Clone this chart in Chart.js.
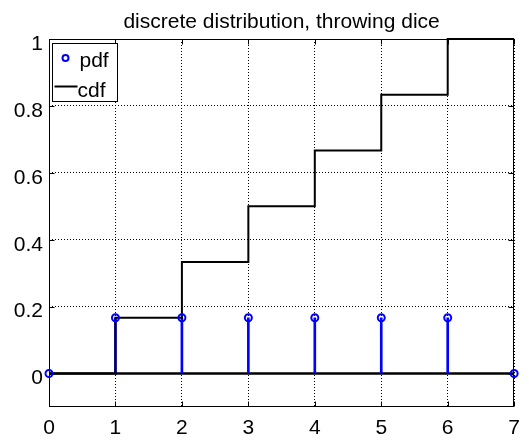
<!DOCTYPE html>
<html>
<head>
<meta charset="utf-8">
<script src="https://cdn.jsdelivr.net/npm/chart.js@4/dist/chart.umd.min.js"></script>
<style>
  html, body { margin: 0; padding: 0; background: #fff; }
  canvas { display: block; }
</style>
</head>
<body>
<canvas id="chart" width="529" height="441"></canvas>
<script>
// Fair die: probability of each face and the running total
const faces = [0, 1, 2, 3, 4, 5, 6, 7];
const pdfValues = [0, 0.1667, 0.1667, 0.1667, 0.1667, 0.1667, 0.1667, 0];
const cdfValues = [0, 0.1667, 0.3333, 0.5, 0.6667, 0.8333, 1, 1];
const xTicks = [0, 1, 2, 3, 4, 5, 6, 7];
const yTicks = [0, 0.2, 0.4, 0.6, 0.8, 1];
const titleText = 'discrete distribution, throwing dice';
const legendLabels = ['pdf', 'cdf'];

const FONT = "'Liberation Sans', Arial, Helvetica, sans-serif";
const BLUE = '#0000ff';

const pdfPoints = faces.map((f, i) => ({ x: f, y: pdfValues[i] }));
const cdfPoints = faces.map((f, i) => ({ x: f, y: cdfValues[i] }));
const basePoints = [{ x: faces[0], y: 0 }, { x: faces[faces.length - 1], y: 0 }];

// Axes box, inward tick marks and the boxed legend
const framePlugin = {
  id: 'frame',
  beforeDatasetsDraw(chart) {
    const { ctx, chartArea: a, scales } = chart;
    const L = Math.round(a.left) + 0.5, R = Math.round(a.right) - 0.5;
    const T = Math.round(a.top) + 0.5, B = Math.round(a.bottom) - 0.5;
    ctx.save();
    ctx.strokeStyle = '#000';
    ctx.lineWidth = 1;
    ctx.setLineDash([]);
    ctx.strokeRect(L, T, R - L, B - T);
    const tl = 5;
    ctx.beginPath();
    xTicks.forEach(v => {
      const px = Math.round(scales.x.getPixelForValue(v)) + 0.5;
      ctx.moveTo(px, B); ctx.lineTo(px, B - tl);
      ctx.moveTo(px, T); ctx.lineTo(px, T + tl);
    });
    yTicks.forEach(v => {
      const py = Math.round(scales.y.getPixelForValue(v)) + 0.5;
      ctx.moveTo(L, py); ctx.lineTo(L + tl, py);
      ctx.moveTo(R, py); ctx.lineTo(R - tl, py);
    });
    ctx.stroke();
    ctx.restore();
  },
  afterDraw(chart) {
    const { ctx, chartArea: a } = chart;
    const L = Math.round(a.left) + 0.5, T = Math.round(a.top) + 0.5;
    ctx.save();
    const lx = L + 3, ly = T + 4, lw = 65, lh = 58;
    ctx.fillStyle = '#fff';
    ctx.fillRect(lx, ly, lw, lh);
    ctx.strokeStyle = '#000';
    ctx.lineWidth = 1;
    ctx.strokeRect(lx, ly, lw, lh);
    ctx.beginPath();
    ctx.strokeStyle = BLUE;
    ctx.lineWidth = 2;
    ctx.arc(lx + 13, ly + 14.5, 3, 0, Math.PI * 2);
    ctx.stroke();
    ctx.beginPath();
    ctx.strokeStyle = '#000';
    ctx.moveTo(lx + 2, ly + 43);
    ctx.lineTo(lx + 25, ly + 43);
    ctx.stroke();
    ctx.fillStyle = '#000';
    ctx.font = '21px ' + FONT;
    ctx.textAlign = 'left';
    ctx.textBaseline = 'alphabetic';
    ctx.fillText(legendLabels[0], lx + 27, ly + 23);
    ctx.fillText(legendLabels[1], lx + 25, ly + 53);
    ctx.restore();
  }
};

new Chart(document.getElementById('chart'), {
  type: 'line',
  data: {
    datasets: [
      {
        label: 'pdf markers',
        data: pdfPoints,
        showLine: false,
        pointStyle: 'circle',
        pointRadius: 3.5,
        pointBorderWidth: 2,
        pointBorderColor: BLUE,
        pointBackgroundColor: 'rgba(0,0,0,0)',
        clip: false,
        order: 0
      },
      {
        label: legendLabels[1],
        data: cdfPoints,
        stepped: true,
        borderColor: '#000',
        borderWidth: 2,
        pointRadius: 0,
        fill: false,
        clip: false,
        order: 1
      },
      {
        type: 'bar',
        label: legendLabels[0],
        data: pdfPoints,
        backgroundColor: BLUE,
        borderWidth: 0,
        barThickness: 2,
        order: 2
      },
      {
        label: 'baseline',
        data: basePoints,
        borderColor: '#000',
        borderWidth: 2.5,
        pointRadius: 0,
        clip: false,
        order: 3
      }
    ]
  },
  options: {
    responsive: false,
    animation: false,
    events: [],
    layout: { padding: { left: 0, right: 11, top: 0, bottom: 0 } },
    plugins: {
      legend: { display: false },
      tooltip: { enabled: false },
      title: {
        display: true,
        fullSize: false,
        text: titleText,
        color: '#000',
        font: { family: FONT, size: 21, weight: 'normal', lineHeight: 1 },
        padding: { top: 12, bottom: 6 }
      }
    },
    scales: {
      x: {
        type: 'linear',
        min: 0,
        max: 7,
        offset: false,
        afterBuildTicks: s => { s.ticks = xTicks.map(v => ({ value: v })); },
        afterFit: s => { s.height = 34; },
        ticks: {
          color: '#000',
          font: { family: FONT, size: 21 },
          padding: 9,
          maxRotation: 0,
          autoSkip: false,
          callback: v => String(v)
        },
        grid: { color: '#000', lineWidth: 1, drawTicks: false, offset: false },
        border: { display: false, dash: [1, 2] }
      },
      y: {
        type: 'linear',
        min: -0.1,
        max: 1,
        afterBuildTicks: s => { s.ticks = yTicks.map(v => ({ value: v })); },
        afterFit: s => { s.width = 49; },
        ticks: {
          color: '#000',
          font: { family: FONT, size: 21 },
          padding: 6,
          labelOffset: 5,
          autoSkip: false,
          callback: v => String(v)
        },
        grid: { color: '#000', lineWidth: 1, drawTicks: false },
        border: { display: false, dash: [1, 2] }
      }
    }
  },
  plugins: [framePlugin]
});
</script>
</body>
</html>
